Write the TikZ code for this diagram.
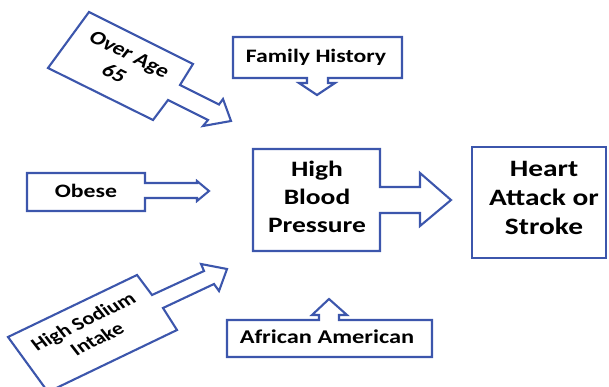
\documentclass[tikz,border=0pt]{standalone}
\usepackage{fontspec}
\setmainfont{Carlito}
\definecolor{cblue}{RGB}{60,86,172}
\newcommand{\fsz}[2]{\bfseries\fontsize{#1}{#2}\selectfont}
\begin{document}
\begin{tikzpicture}[x=1pt,y=-1pt,
  callout/.style={draw=cblue, line width=2.1pt, fill=white, line join=miter},
  lbl/.style={align=center, inner sep=0pt, text=black, xscale=1.25}]
\useasboundingbox (0,0) rectangle (609,387);
% Over Age 65
\draw[callout] (89,12) -- (193,64) -- (180,85) -- (219,104.5) -- (223,99) -- (231,121) -- (203,126) -- (208,120) -- (168,100) -- (153,120) -- (48,68) -- cycle;
\node[lbl, rotate=-32, font=\fsz{19}{23}] (age) at (122,64) {Over Age\\65};
% Family History
\draw[callout] (233,37) -- (402,37) -- (402,78) -- (328,78) -- (328,83) -- (335,83) -- (317,95) -- (299,83) -- (307,83) -- (307,78) -- (233,78) -- cycle;
\node[lbl, font=\fsz{19}{23}] (fam) at (316,57) {Family History};
% Obese
\draw[callout] (27,173) -- (145,173) -- (145,183) -- (197,183) -- (197,181) -- (209,191) -- (197,201) -- (197,198) -- (145,198) -- (145,211) -- (27,211) -- cycle;
\node[lbl, font=\fsz{19}{23}] (obese) at (86,191) {Obese};
% High Blood Pressure
\draw[callout] (253,149) -- (380,149) -- (380,187) -- (420,187) -- (420,173) -- (451,200) -- (420,226) -- (420,213) -- (380,213) -- (380,251) -- (253,251) -- cycle;
\node[lbl, font=\fsz{22}{28}] (hbp) at (317,197) {High\\Blood\\Pressure};
% Heart Attack or Stroke
\draw[callout] (472,147) rectangle (606,258);
\node[lbl, font=\fsz{23.5}{29}] (heart) at (544,198) {Heart\\Attack or\\Stroke};
% High Sodium Intake
\draw[callout] (8,337) -- (137,275) -- (152,295) -- (204,271) -- (201,264) -- (227,269) -- (219,291) -- (214,284) -- (163,308) -- (177,330) -- (48,392) -- cycle;
\node[lbl, rotate=32, font=\fsz{18}{21}] (salt) at (90,330) {High Sodium\\Intake};
% African American
\draw[callout] (227,320) -- (319,320) -- (319,315) -- (312,315) -- (329,299) -- (347,315) -- (339,315) -- (339,320) -- (432,320) -- (432,357) -- (227,357) -- cycle;
\node[lbl, font=\fsz{19.5}{23}] (afr) at (327,337) {African American};
\end{tikzpicture}
\end{document}
